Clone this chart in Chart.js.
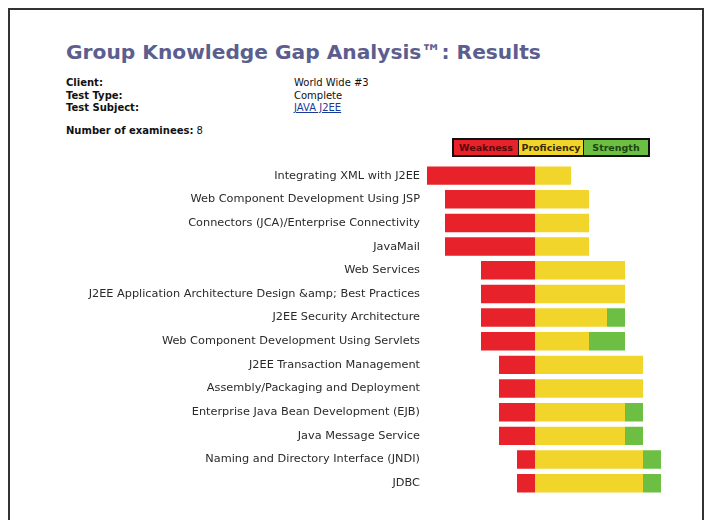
<!DOCTYPE html>
<html>
<head>
    <title>Group Knowledge Gap Analysis: Results</title>
    <script src="https://cdn.jsdelivr.net/npm/chart.js@4/dist/chart.umd.min.js"></script>
    <style>
        body { margin: 0; background: #fff; font-family: "DejaVu Sans", Verdana, sans-serif; }
        #frame { position: absolute; left: 8px; top: 8px; width: 692px; height: 530px; border: 2px solid #333; }
        h1 { position: absolute; left: 66px; top: 40px; margin: 0; font-size: 20.2px; font-weight: bold; color: #5b5e8e; white-space: nowrap; }
        .info { position: absolute; font-size: 10px; line-height: 12.5px; color: #111; }
        .info b { font-weight: bold; }
        a { color: #1a3a9a; }
        #legend { position: absolute; left: 452px; top: 138px; display: flex; border: 2px solid #111; font-size: 9.5px; font-weight: bold; }
        #legend div { width: 64px; height: 15px; line-height: 15px; text-align: center; }
        #wrap { position: absolute; left: 0; top: 150px; width: 700px; height: 360px; }
    </style>
</head>
<body>
    <div id="frame"></div>
    <h1>Group Knowledge Gap Analysis™: Results</h1>
    <div class="info" style="left:66px; top:77px;"><b>Client:</b><br><b>Test Type:</b><br><b>Test Subject:</b></div>
    <div class="info" style="left:294px; top:77px;">World Wide #3<br>Complete<br><a href="#">JAVA J2EE</a></div>
    <div class="info" style="left:66px; top:125px;"><b>Number of examinees:</b> 8</div>
    <div id="legend">
        <div style="background:#e8222a; color:#5a0808;">Weakness</div>
        <div style="background:#f2d52a; color:#3a2c00; border-left:1px solid #111; border-right:1px solid #111;">Proficiency</div>
        <div style="background:#6dbf44; color:#1c4610;">Strength</div>
    </div>
    <div id="wrap"><canvas id="myChart"></canvas></div>

    <script>
        var topics = [
            'Integrating XML with J2EE',
            'Web Component Development Using JSP',
            'Connectors (JCA)/Enterprise Connectivity',
            'JavaMail',
            'Web Services',
            'J2EE Application Architecture Design &amp; Best Practices',
            'J2EE Security Architecture',
            'Web Component Development Using Servlets',
            'J2EE Transaction Management',
            'Assembly/Packaging and Deployment',
            'Enterprise Java Bean Development (EJB)',
            'Java Message Service',
            'Naming and Directory Interface (JNDI)',
            'JDBC'
        ];
        // examinees per level, weakness drawn to the left
        var weakness    = [6, 5, 5, 5, 3, 3, 3, 3, 2, 2, 2, 2, 1, 1];
        var proficiency = [2, 3, 3, 3, 5, 5, 4, 3, 6, 6, 5, 5, 6, 6];
        var strength    = [0, 0, 0, 0, 0, 0, 1, 2, 0, 0, 1, 1, 1, 1];

        var ctx = document.getElementById('myChart').getContext('2d');

        var chart = new Chart(ctx, {
            type: 'bar',
            data: {
                labels: topics,
                datasets: [
                    { label: 'Weakness', data: weakness.map(function (v) { return -v; }), backgroundColor: '#e8222a' },
                    { label: 'Proficiency', data: proficiency, backgroundColor: '#f2d52a' },
                    { label: 'Strength', data: strength, backgroundColor: '#6dbf44' }
                ]
            },
            options: {
                indexAxis: 'y',
                responsive: true,
                maintainAspectRatio: false,
                animation: false,
                datasets: {
                    bar: { categoryPercentage: 1, barPercentage: 0.78, borderWidth: 0 }
                },
                layout: { padding: { top: 9, right: 21, bottom: 15, left: 0 } },
                plugins: { legend: { display: false }, tooltip: { enabled: false } },
                scales: {
                    x: {
                        stacked: true,
                        display: false,
                        min: -6,
                        max: 8
                    },
                    y: {
                        stacked: true,
                        grid: { display: false, drawTicks: false },
                        border: { display: false },
                        ticks: {
                            padding: 7,
                            color: '#2a2a2a',
                            font: { family: 'DejaVu Sans', size: 11.3 }
                        },
                        afterFit: function (scale) { scale.width = 427; }
                    }
                }
            }
        });
    </script>
</body>
</html>
